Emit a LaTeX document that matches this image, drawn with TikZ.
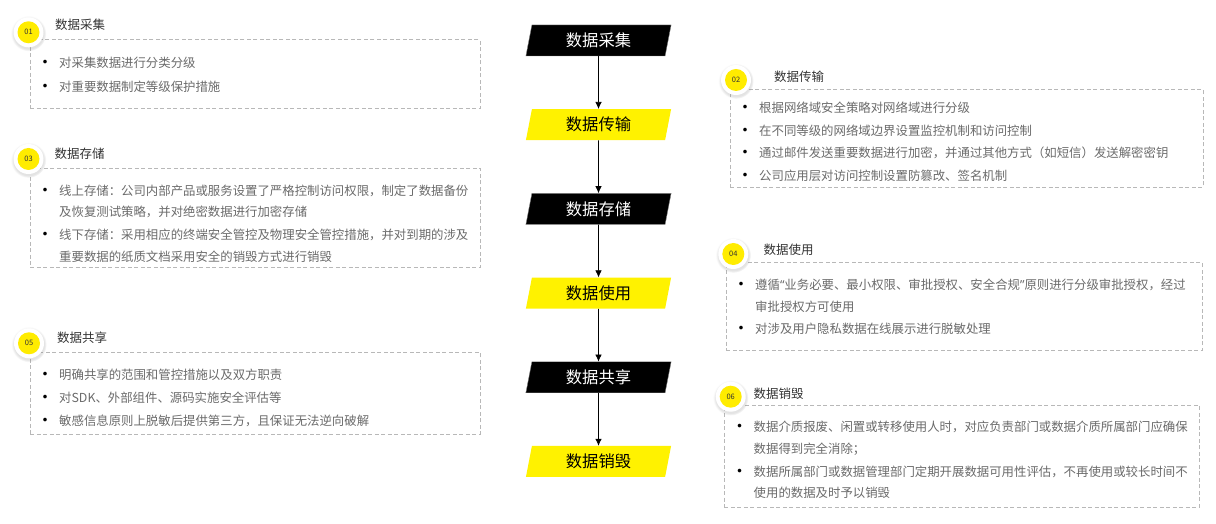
\documentclass[tikz,border=0pt]{standalone}
\usepackage{fontspec}
\newfontfamily\cjk{Noto Sans CJK SC}
\newfontfamily\lat{Noto Sans}
\usetikzlibrary{shapes.geometric,arrows.meta,shadows}
\definecolor{stepyellow}{HTML}{FFF200}
\definecolor{badgeyellow}{HTML}{FFEC00}
\definecolor{bodygray}{HTML}{6A6A6A}
\definecolor{titlegray}{HTML}{333333}
\definecolor{dashgray}{HTML}{B8B8B8}
\newcommand\bitem{\leavevmode
  \makebox[19.5pt][l]{\hspace*{-3pt}\raisebox{-.8pt}{\color{black}\fontsize{17}{17}\selectfont •}}}
\newcommand\bcont{\newline\hspace*{19.5pt}}

\begin{document}
\begin{tikzpicture}[x=1pt,y=1pt,
  stepbox/.style={trapezium, trapezium left angle=79, trapezium right angle=101,
    trapezium stretches=true, minimum width=146pt, minimum height=31pt, inner sep=0pt,
    font=\cjk\fontsize{16.3}{18}\selectfont},
  darkstep/.style={stepbox, fill=black, draw=gray, text=white},
  lightstep/.style={stepbox, fill=stepyellow, text=black},
  flow/.style={-{Latex[length=7pt,width=6.5pt]}, line width=.7pt},
  badge/.style={circle, fill=white, minimum size=30pt, inner sep=0pt,
    circular drop shadow={shadow xshift=0pt, shadow yshift=-1pt, shadow scale=1.18, opacity=.22},
    path picture={\fill[badgeyellow] (path picture bounding box.center) circle (11pt);},
    font=\cjk\fontsize{7.5}{8}\selectfont, text=titlegray},
  title/.style={anchor=west, inner sep=0pt, text=titlegray, font=\cjk\fontsize{12.5}{14}\selectfont},
  panelbox/.style={draw=dashgray, line width=.8pt, dash pattern=on 4pt off 2.5pt,
    anchor=north west, inner sep=0pt},
  items/.style={anchor=base west, inner sep=0pt, text width=480pt, align=left,
    text=bodygray, font=\cjk\fontsize{12.4}{21.5}\selectfont}]
\useasboundingbox (0,0) rectangle (1216,524);

% flow in the middle
\foreach \i/\txt/\kind in {1/数据采集/darkstep, 2/数据传输/lightstep, 3/数据存储/darkstep,
  4/数据使用/lightstep, 5/数据共享/darkstep, 6/数据销毁/lightstep}
  \node[\kind] (s\i) at (598.5, {483.5-84.2*(\i-1)}) {\txt};
\foreach \i [count=\j from 2] in {1,...,5}
  \draw[flow] (s\i) -- (s\j);

% left column
\node[panelbox, minimum width=449.5pt, minimum height=69pt] (box1) at (30,484.7) {};
\node[items] (list1) at ([shift={(9.5,-28.7)}]box1.north west)
  {\setlength{\parskip}{2.5pt}\bitem 对采集数据进行分类分级\par\bitem 对重要数据制定等级保护措施};
\node[badge] (n1) at (28.5,491.7) {01};
\node[title] (t1) at (55,499.7) {数据采集};

\node[panelbox, minimum width=449.5pt, minimum height=99.6pt] (box3) at (30,356.3) {};
\node[items] (list3) at ([shift={(9.5,-27.7)}]box3.north west)
  {\setlength{\parskip}{1.5pt}\bitem 线上存储：公司内部产品或服务设置了严格控制访问权限，制定了数据备份\bcont 及恢复测试策略，并对绝密数据进行加密存储\par\bitem 线下存储：采用相应的终端安全管控及物理安全管控措施，并对到期的涉及\bcont 重要数据的纸质文档采用安全的销毁方式进行销毁};
\node[badge] (n3) at (28.5,365) {03};
\node[title] (t3) at (54.5,370) {数据存储};

\node[panelbox, minimum width=449.5pt, minimum height=82.3pt] (box5) at (30,172.3) {};
\node[items] (list5) at ([shift={(9.5,-28)}]box5.north west)
  {\setlength{\parskip}{1.5pt}\bitem 明确共享的范围和管控措施以及双方职责\par\bitem 对SDK、外部组件、源码实施安全评估等\par\bitem 敏感信息原则上脱敏后提供第三方，且保证无法逆向破解};
\node[badge] (n5) at (29,180.7) {05};
\node[title] (t5) at (57,186.7) {数据共享};

% right column
\node[panelbox, minimum width=472.7pt, minimum height=97.4pt] (box2) at (730,434.7) {};
\node[items] (list2) at ([shift={(9.5,-23.7)}]box2.north west)
  {\setlength{\parskip}{1pt}\bitem 根据网络域安全策略对网络域进行分级\par\bitem 在不同等级的网络域边界设置监控机制和访问控制\par\bitem 通过邮件发送重要数据进行加密，并通过其他方式（如短信）发送解密密钥\par\bitem 公司应用层对访问控制设置防篡改、签名机制};
\node[badge] (n2) at (736,444) {02};
\node[title] (t2) at (774,447.3) {数据传输};

\node[panelbox, minimum width=475.7pt, minimum height=87.7pt] (box4) at (726,261.7) {};
\node[items] (list4) at ([shift={(9.5,-27.4)}]box4.north west)
  {\setlength{\parskip}{1pt}\bitem 遵循{\lat “}业务必要、最小权限、审批授权、安全合规{\lat ”}原则进行分级审批授权，经过\bcont 审批授权方可使用\par\bitem 对涉及用户隐私数据在线展示进行脱敏处理};
\node[badge] (n4) at (733.3,270) {04};
\node[title] (t4) at (763.3,274) {数据使用};

\node[panelbox, minimum width=475pt, minimum height=101.7pt] (box6) at (724,119) {};
\node[items] (list6) at ([shift={(10,-27)}]box6.north west)
  {\setlength{\parskip}{1.5pt}\bitem 数据介质报废、闲置或转移使用人时，对应负责部门或数据介质所属部门应确保\bcont 数据得到完全消除；\par\bitem 数据所属部门或数据管理部门定期开展数据可用性评估，不再使用或较长时间不\bcont 使用的数据及时予以销毁};
\node[badge] (n6) at (730.7,127.3) {06};
\node[title] (t6) at (753.3,130) {数据销毁};
\end{tikzpicture}
\end{document}
